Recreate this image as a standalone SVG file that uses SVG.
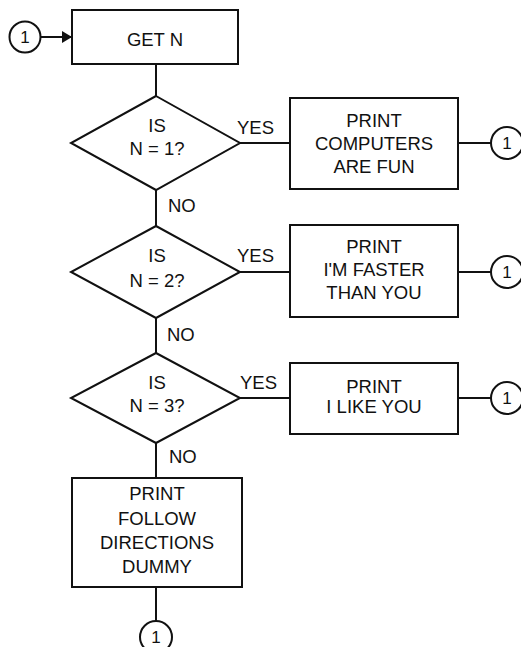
<svg xmlns="http://www.w3.org/2000/svg" width="521" height="647" viewBox="0 0 521 647">
  <style>
    .shape { fill: #fff; stroke: #111; stroke-width: 2; }
    .wire { fill: none; stroke: #111; stroke-width: 2; }
    text { font-family: "Liberation Sans", Arial, Helvetica, sans-serif; font-size: 18.5px; fill: #111; }
    .mid { text-anchor: middle; }
    .conn { font-size: 17px; }
  </style>
  <defs>
    <marker id="arrow" markerWidth="10" markerHeight="12" refX="10" refY="6" orient="auto" markerUnits="userSpaceOnUse">
      <path d="M0,0 L10,6 L0,12 Z" fill="#111"/>
    </marker>
  </defs>
  <rect width="521" height="647" fill="#fff"/>

  <!-- connectors -->
  <g id="connectors" class="wire">
    <line x1="41" y1="37" x2="72" y2="37" marker-end="url(#arrow)"/>
    <line x1="156" y1="64" x2="156" y2="96"/>
    <line x1="240" y1="143" x2="290" y2="143"/>
    <line x1="458" y1="143" x2="491" y2="143"/>
    <line x1="156" y1="190" x2="156" y2="226"/>
    <line x1="240" y1="272" x2="290" y2="272"/>
    <line x1="458" y1="272" x2="491" y2="272"/>
    <line x1="156" y1="318" x2="156" y2="353"/>
    <line x1="240" y1="398" x2="290" y2="398"/>
    <line x1="458" y1="398" x2="491" y2="398"/>
    <line x1="156" y1="443" x2="156" y2="478"/>
    <line x1="156" y1="587" x2="156" y2="621"/>
  </g>

  <!-- edge labels -->
  <g id="labels">
    <text x="237" y="134">YES</text>
    <text x="237" y="262">YES</text>
    <text x="240" y="389">YES</text>
    <text x="168" y="212">NO</text>
    <text x="167" y="341">NO</text>
    <text x="169" y="463">NO</text>
  </g>

  <g id="start">
    <circle class="shape" cx="25" cy="37" r="15.5"/>
    <text class="mid conn" x="25" y="43">1</text>
  </g>

  <g id="get-n">
    <rect class="shape" x="72" y="10" width="166" height="54"/>
    <text class="mid" x="155" y="46">GET N</text>
  </g>

  <g id="test-1">
    <polygon class="shape" points="156,96 240,143 156,190 71,143"/>
    <text class="mid" x="157" y="132">IS</text>
    <text class="mid" x="157" y="155">N = 1?</text>
  </g>

  <g id="print-1">
    <rect class="shape" x="290" y="98" width="168" height="91"/>
    <text class="mid" x="374" y="127">PRINT</text>
    <text class="mid" x="374" y="150">COMPUTERS</text>
    <text class="mid" x="374" y="173">ARE FUN</text>
  </g>

  <g id="goto-1a">
    <circle class="shape" cx="507" cy="143" r="16"/>
    <text class="mid conn" x="507" y="149">1</text>
  </g>

  <g id="test-2">
    <polygon class="shape" points="156,226 240,272 156,318 71,272"/>
    <text class="mid" x="157" y="262">IS</text>
    <text class="mid" x="157" y="287">N = 2?</text>
  </g>

  <g id="print-2">
    <rect class="shape" x="290" y="225" width="168" height="92"/>
    <text class="mid" x="374" y="253">PRINT</text>
    <text class="mid" x="374" y="276">I'M FASTER</text>
    <text class="mid" x="374" y="299">THAN YOU</text>
  </g>

  <g id="goto-1b">
    <circle class="shape" cx="507" cy="272" r="16"/>
    <text class="mid conn" x="507" y="278">1</text>
  </g>

  <g id="test-3">
    <polygon class="shape" points="156,353 240,398 156,443 71,398"/>
    <text class="mid" x="157" y="389">IS</text>
    <text class="mid" x="157" y="412">N = 3?</text>
  </g>

  <g id="print-3">
    <rect class="shape" x="290" y="363" width="168" height="71"/>
    <text class="mid" x="374" y="393">PRINT</text>
    <text class="mid" x="374" y="413">I LIKE YOU</text>
  </g>

  <g id="goto-1c">
    <circle class="shape" cx="507" cy="398" r="16"/>
    <text class="mid conn" x="507" y="404">1</text>
  </g>

  <g id="print-4">
    <rect class="shape" x="72" y="478" width="170" height="109"/>
    <text class="mid" x="157" y="500">PRINT</text>
    <text class="mid" x="157" y="525">FOLLOW</text>
    <text class="mid" x="157" y="549">DIRECTIONS</text>
    <text class="mid" x="157" y="573">DUMMY</text>
  </g>

  <g id="goto-1d">
    <circle class="shape" cx="156" cy="637" r="16"/>
    <text class="mid conn" x="156" y="643">1</text>
  </g>
</svg>
